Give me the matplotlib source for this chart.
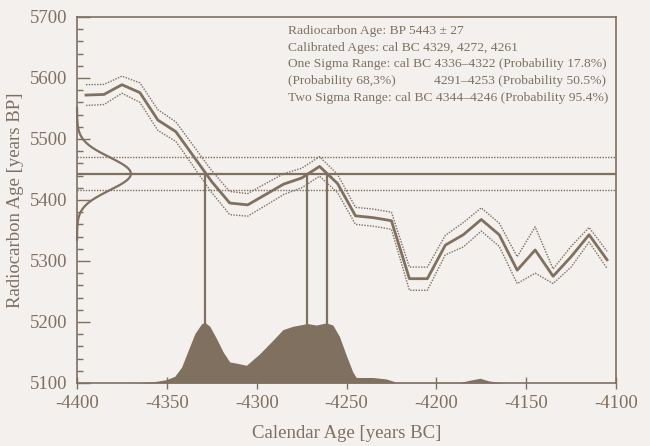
import numpy as np
import matplotlib
matplotlib.use("Agg")
import matplotlib.pyplot as plt
from matplotlib.ticker import MultipleLocator

BROWN = "#7f7060"
BG = "#f3f0ed"

plt.rcParams["font.family"] = ["Liberation Serif", "DejaVu Serif"]
plt.rcParams["axes.unicode_minus"] = False

# calibration curve (cal BC as negative years, radiocarbon BP, 1-sigma)
cal_years = [-4395, -4385, -4375, -4365, -4355, -4345, -4335, -4325, -4315, -4305,
             -4295, -4285, -4275, -4265, -4255, -4245, -4235, -4225, -4215, -4205,
             -4195, -4185, -4175, -4165, -4155, -4145, -4135, -4125, -4115, -4105]
curve_bp = [5572, 5573, 5589, 5576, 5531, 5512, 5471, 5430, 5395, 5392,
            5409, 5426, 5436, 5455, 5427, 5374, 5371, 5366, 5271, 5271,
            5326, 5343, 5368, 5343, 5285, 5318, 5275, 5307, 5343, 5302]
curve_err = [17, 16.5, 14, 16, 17, 16, 17, 18, 19, 18.5,
             18, 17, 16, 16, 15, 14, 14, 14, 19, 19,
             16, 20, 19, 19, 22, 38, 12, 17, 12, 14]

# measured sample
c14_age = 5443
c14_err = 27
intercepts = [-4329, -4272, -4261]

# calibrated probability distribution (relative to the highest value)
prob_years = [-4372, -4365, -4357.6, -4350.2, -4345.6, -4341.8, -4338.1, -4334.4, -4330.7,
              -4328.9, -4326.1, -4322.4, -4318.7, -4315, -4310.4, -4305.7, -4298.3, -4291,
              -4285.4, -4279.8, -4274.3, -4272, -4266.8, -4261.3, -4257.6, -4253.9, -4250.2,
              -4246.5, -4244.6, -4237.2, -4235.4, -4228, -4224.3, -4222.4, -4187.2, -4181.7,
              -4175.7, -4170.6, -4165, -4160]
prob_rel = [0.0, 0.005, 0.02, 0.055, 0.11, 0.26, 0.536, 0.81, 0.97,
            0.995, 0.93, 0.73, 0.51, 0.345, 0.32, 0.29, 0.48, 0.70,
            0.875, 0.93, 0.96, 0.975, 0.95, 0.985, 0.95, 0.76, 0.46,
            0.18, 0.09, 0.09, 0.09, 0.066, 0.033, 0.005, 0.005, 0.044,
            0.077, 0.033, 0.01, 0.0]

info_lines = [
    "Radiocarbon Age: BP 5443 \u00b1 27",
    "Calibrated Ages: cal BC 4329, 4272, 4261",
    "One Sigma Range: cal BC 4336\u20134322 (Probability 17.8%)",
    "(Probability 68,3%)",
    "Two Sigma Range: cal BC 4344\u20134246 (Probability 95.4%)",
]
info_extra = "4291\u20134253 (Probability 50.5%)"

ymin, ymax = 5100, 5700
dist_scale = 100

fig = plt.figure(figsize=(6.5, 4.46), dpi=100, facecolor=BG)
ax = fig.add_axes([0.1185, 0.1413, 0.8292, 0.8206])
ax.set_facecolor(BG)

cal_years = np.array(cal_years)
curve_bp = np.array(curve_bp)
curve_err = np.array(curve_err)

# calibration curve with 1-sigma envelope
ax.plot(cal_years, curve_bp, color=BROWN, lw=2.0, zorder=4)
ax.plot(cal_years, curve_bp + curve_err, color=BROWN, lw=1.0, ls=(0, (1, 1)), zorder=4)
ax.plot(cal_years, curve_bp - curve_err, color=BROWN, lw=1.0, ls=(0, (1, 1)), zorder=4)

# measured age and its 1-sigma limits
ax.axhline(c14_age, color=BROWN, lw=1.6, zorder=3)
ax.axhline(c14_age + c14_err, color=BROWN, lw=1.0, ls=(0, (1, 1)), zorder=3)
ax.axhline(c14_age - c14_err, color=BROWN, lw=1.0, ls=(0, (1, 1)), zorder=3)

# normal distribution of the measurement along the y axis
yy = np.linspace(c14_age - 4 * c14_err, c14_age + 4 * c14_err, 300)
gauss = 30 * np.exp(-0.5 * ((yy - c14_age) / c14_err) ** 2)
ax.plot(-4400 + gauss, yy, color=BROWN, lw=1.6, zorder=3, clip_on=False)

# intercepts of the measured age with the curve
for x in intercepts:
    ax.plot([x, x], [ymin, c14_age], color=BROWN, lw=1.6, zorder=2)

# calibrated distribution along the x axis
ax.fill_between(prob_years, ymin, ymin + dist_scale * np.array(prob_rel),
                color=BROWN, lw=0, zorder=5)

# result summary
top = 0.962
step = 16.8 / 366
for i, line in enumerate(info_lines):
    ax.text(0.3915, top - i * step, line, transform=ax.transAxes, fontsize=9.7,
            color=BROWN, ha="left", va="center", zorder=6)
ax.text(0.662, top - 3 * step, info_extra, transform=ax.transAxes, fontsize=9.7,
        color=BROWN, ha="left", va="center", zorder=6)

ax.set_xlim(-4400, -4100)
ax.set_ylim(ymin, ymax)
ax.xaxis.set_major_locator(MultipleLocator(50))
ax.yaxis.set_major_locator(MultipleLocator(100))
ax.yaxis.set_minor_locator(MultipleLocator(20))
ax.tick_params(axis="x", direction="inout", length=8, width=1.0, color=BROWN,
               labelcolor=BROWN, labelsize=13.5, pad=5)
ax.tick_params(axis="y", which="major", direction="in", length=9, width=1.0, color=BROWN,
               labelcolor=BROWN, labelsize=13.5, pad=7)
ax.tick_params(axis="y", which="minor", direction="in", length=4.5, width=1.0, color=BROWN)
ax.tick_params(top=False, right=False, which="both")

for spine in ax.spines.values():
    spine.set_color(BROWN)
    spine.set_linewidth(1.2)

ax.set_xlabel("Calendar Age [years BC]", color=BROWN, fontsize=13.5, labelpad=9)
ax.set_ylabel("Radiocarbon Age [years BP]", color=BROWN, fontsize=13.5, labelpad=4)

fig.savefig("out.png", dpi=100, facecolor=BG)
